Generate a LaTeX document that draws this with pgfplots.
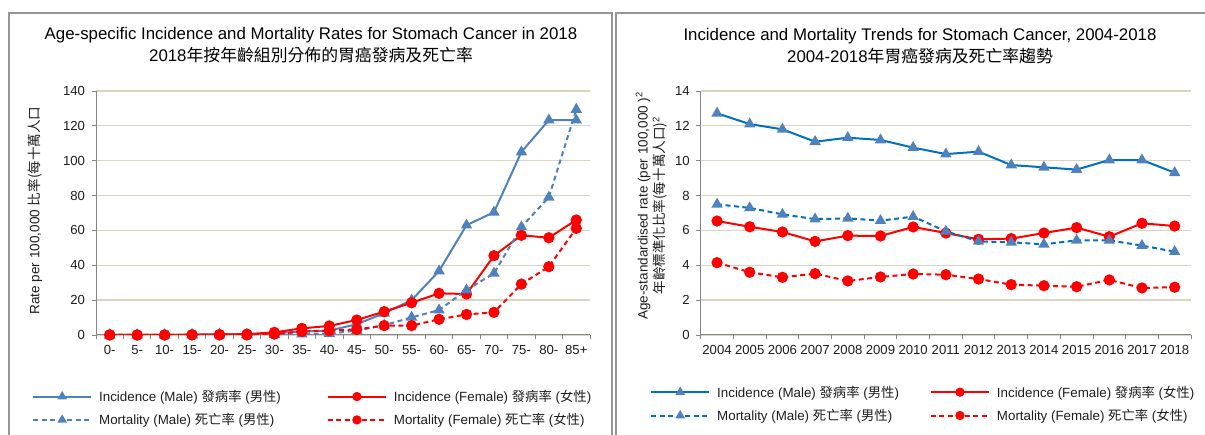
\documentclass[border=0pt]{standalone}
\usepackage{pgfplots}
\pgfplotsset{compat=1.18}
\usepackage{fontspec}
\setmainfont{Liberation Sans}
\newfontfamily\cjk{Noto Sans CJK TC}
\definecolor{mblueL}{RGB}{79,129,189}
\definecolor{mblueR}{RGB}{0,112,192}
\definecolor{fred}{RGB}{255,0,0}
\definecolor{gridc}{RGB}{217,213,192}
\definecolor{axc}{RGB}{134,134,134}
\definecolor{framec}{RGB}{150,150,150}
\definecolor{txt}{RGB}{30,30,30}

\pgfplotsset{
 common/.style={
  scale only axis, height=244bp,
  axis x line*=bottom, axis y line*=left,
  axis line style={draw=axc, line width=1bp},
  ymajorgrids, major grid style={draw=gridc, line width=1.3bp},
  tick align=outside, major tick length=4.5bp,
  tick style={draw=axc, line width=0.8bp},
  ticklabel style={font=\fontsize{13.2}{15}\selectfont, text=txt},
  yticklabel style={xshift=-3bp},
  /pgf/number format/assume math mode=true,
  label style={font=\fontsize{13.6}{17}\selectfont, text=txt},
  legend columns=2,
  legend cell align=left,
  legend style={draw=none, fill=none, font=\fontsize{13.4}{15}\selectfont, text=txt,
    anchor=north west, inner sep=0pt, row sep=6.5bp,
    nodes={inner sep=2bp}},
  legend image code/.code={\draw[mark repeat=2,mark phase=2,##1,mark size=3.6bp] plot coordinates {(0bp,0bp) (29bp,0bp) (58bp,0bp)}; \path (63bp,0bp);},
 },
 lw/.style={line width=2bp},
 dsh/.style={dash pattern=on 5bp off 3.5bp},
 tri/.style={mark=triangle*, mark size=4.6bp, mark options={solid}},
 circ/.style={mark=*, mark size=4.6bp, mark options={solid}},
}

\begin{document}
\begin{tikzpicture}[x=1bp,y=1bp]
\useasboundingbox (0,0) rectangle (1205,435);
% panel frames
\draw[framec, line width=1.5bp] (9,-5) -- (9,422) -- (612,422) -- (612,-5);
\draw[framec, line width=1.5bp] (616,-5) -- (616,422) -- (1215,422);
% titles
\node[font=\fontsize{16.9}{19}\selectfont, text=black] at (311,400) {Age-specific Incidence and Mortality Rates for Stomach Cancer in 2018};
\node[font=\fontsize{16.9}{19}\selectfont, text=black] at (311,380) {2018{\cjk 年按年齡組別分佈的胃癌發病及死亡率}};
\node[font=\fontsize{16.9}{19}\selectfont, text=black] at (920,399) {Incidence and Mortality Trends for Stomach Cancer, 2004-2018};
\node[font=\fontsize{16.9}{19}\selectfont, text=black] at (920,379) {2004-2018{\cjk 年胃癌發病及死亡率趨勢}};

% left axis
\begin{axis}[common, at={(96bp,100bp)}, anchor=south west, width=494bp,
  xmin=-0.5, xmax=17.5, ymin=0, ymax=140,
  ytick={0,20,...,140},
  xtick={-0.5,0.5,...,17.5}, xticklabels={},
  extra x ticks={0,1,...,17},
  extra x tick labels={0-,5-,10-,15-,20-,25-,30-,35-,40-,45-,50-,55-,60-,65-,70-,75-,80-,85+},
  extra x tick style={major tick length=0pt, xticklabel style={yshift=-7bp}},
  ylabel={Rate per 100,000 {\cjk 比率(每十萬人口}},
  ylabel style={at={(axis description cs:-0.1235,0.51)}, anchor=center},
  legend style={at={(axis description cs:-0.1296,-0.217)},
    /tikz/every even column/.append style={column sep=44bp}},
]
\addplot[mblueL, lw, tri] coordinates {(0,0) (1,0) (2,0) (3,0.2) (4,0.5) (5,0.3) (6,1.0) (7,2.0) (8,2.5) (9,6.2) (10,12.5) (11,20.0) (12,36.7) (13,63.0) (14,70.4) (15,105.0) (16,123.3) (17,123.3)};
\addlegendentry{Incidence (Male) {\cjk 發病率} ({\cjk 男性})}
\addplot[fred, lw, circ] coordinates {(0,0.1) (1,0) (2,0) (3,0.2) (4,0.3) (5,0.5) (6,1.5) (7,3.8) (8,5.2) (9,8.6) (10,13.4) (11,18.5) (12,23.9) (13,23.5) (14,45.5) (15,57.2) (16,55.8) (17,66.0)};
\addlegendentry{Incidence (Female) {\cjk 發病率} ({\cjk 女性})}
\addplot[mblueL, lw, dsh, tri] coordinates {(0,0) (1,0) (2,0) (3,0) (4,0) (5,0) (6,0.2) (7,0.5) (8,0.8) (9,2.5) (10,5.6) (11,10.1) (12,14.3) (13,25.8) (14,35.4) (15,62.0) (16,79.0) (17,129.4)};
\addlegendentry{Mortality (Male) {\cjk 死亡率} ({\cjk 男性})}
\addplot[fred, lw, dsh, circ] coordinates {(0,0) (1,0) (2,0) (3,0) (4,0) (5,0) (6,0.5) (7,2.0) (8,2.5) (9,3.2) (10,5.4) (11,5.4) (12,9.0) (13,11.8) (14,13.0) (15,29.2) (16,39.2) (17,61.2)};
\addlegendentry{Mortality (Female) {\cjk 死亡率} ({\cjk 女性})}
\end{axis}

% right axis
\begin{axis}[common, at={(700.7bp,100bp)}, anchor=south west, width=490.3bp,
  xmin=-0.5, xmax=14.5, ymin=0, ymax=14,
  ytick={0,2,...,14},
  xtick={-0.5,0.5,...,14.5}, xticklabels={},
  extra x ticks={0,1,...,14},
  extra x tick labels={2004,2005,2006,2007,2008,2009,2010,2011,2012,2013,2014,2015,2016,2017,2018},
  extra x tick style={major tick length=0pt, xticklabel style={yshift=-7bp}},
  ylabel={Age-standardised rate (per 100,000 )\textsuperscript{2}\\{\cjk 年齡標準化比率(每十萬人口)}\textsuperscript{2}},
  ylabel style={at={(axis description cs:-0.1003,0.53)}, anchor=center, align=center},
  legend style={at={(axis description cs:-0.1034,-0.199)},
    /tikz/every even column/.append style={column sep=29bp}},
]
\addplot[mblueR, lw, tri, mark options={solid, fill=mblueL, draw=mblueL}] coordinates {(0,12.72) (1,12.1) (2,11.8) (3,11.09) (4,11.32) (5,11.19) (6,10.75) (7,10.38) (8,10.52) (9,9.75) (10,9.62) (11,9.49) (12,10.04) (13,10.04) (14,9.31)};
\addlegendentry{Incidence (Male) {\cjk 發病率} ({\cjk 男性})}
\addplot[fred, lw, circ] coordinates {(0,6.54) (1,6.21) (2,5.91) (3,5.37) (4,5.7) (5,5.68) (6,6.2) (7,5.85) (8,5.49) (9,5.53) (10,5.85) (11,6.16) (12,5.64) (13,6.41) (14,6.25)};
\addlegendentry{Incidence (Female) {\cjk 發病率} ({\cjk 女性})}
\addplot[mblueR, lw, dsh, tri, mark options={solid, fill=mblueL, draw=mblueL}] coordinates {(0,7.5) (1,7.29) (2,6.92) (3,6.65) (4,6.69) (5,6.56) (6,6.79) (7,5.95) (8,5.37) (9,5.32) (10,5.2) (11,5.43) (12,5.43) (13,5.13) (14,4.78)};
\addlegendentry{Mortality (Male) {\cjk 死亡率} ({\cjk 男性})}
\addplot[fred, lw, dsh, circ] coordinates {(0,4.15) (1,3.6) (2,3.31) (3,3.52) (4,3.1) (5,3.33) (6,3.5) (7,3.46) (8,3.21) (9,2.89) (10,2.83) (11,2.77) (12,3.16) (13,2.7) (14,2.74)};
\addlegendentry{Mortality (Female) {\cjk 死亡率} ({\cjk 女性})}
\end{axis}
\end{tikzpicture}
\end{document}
